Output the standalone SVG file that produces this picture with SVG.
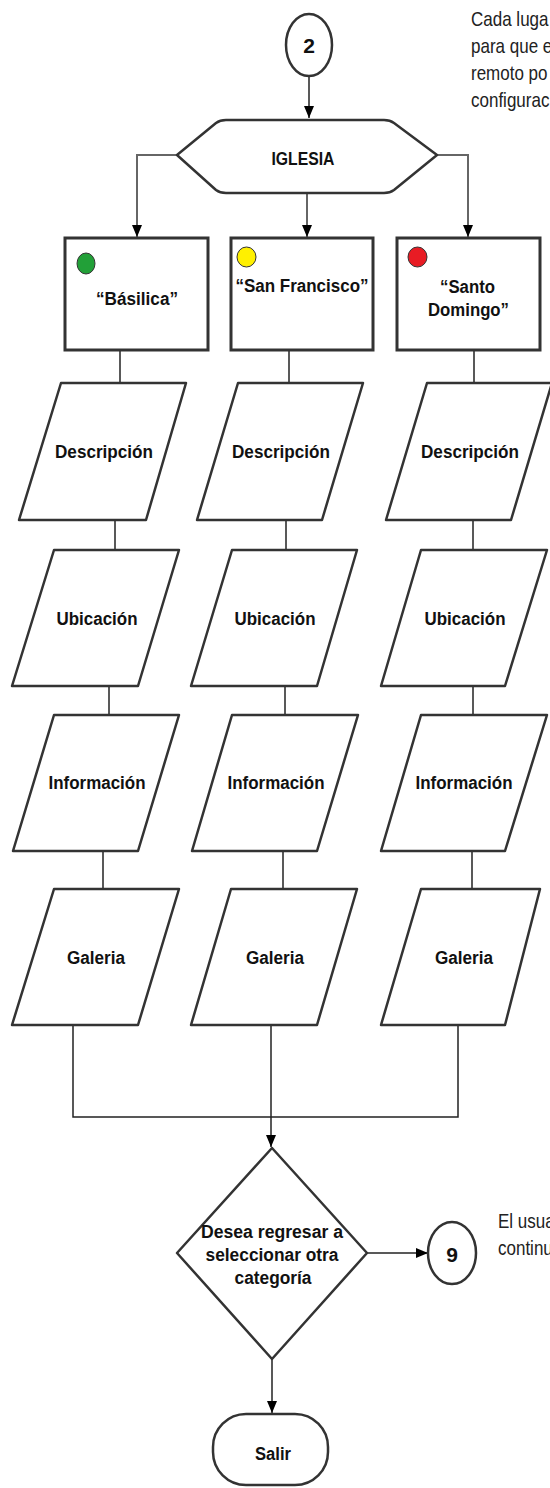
<svg xmlns="http://www.w3.org/2000/svg" width="550" height="1488" viewBox="0 0 550 1488">
<defs>
<style>
.shape{fill:#fff;stroke:#333;stroke-width:2.5;stroke-linejoin:round}
.box{fill:#fff;stroke:#333;stroke-width:3}
.lbl{font-family:"Liberation Sans",Arial,sans-serif;font-weight:bold;font-size:18px;fill:#111;text-anchor:middle}
.note{font-family:"Liberation Sans",Arial,sans-serif;font-size:21px;fill:#222}
.con{fill:none;stroke:#222;stroke-width:1.5}
.gcon{fill:none;stroke:#666;stroke-width:2}
.dot{stroke:#333;stroke-width:1}
</style>
<marker id="arr" markerUnits="userSpaceOnUse" markerWidth="12" markerHeight="10" refX="12" refY="5" orient="auto">
<path d="M0,0 L12,5 L0,10 Z" fill="#000"/>
</marker>
</defs>
<rect width="550" height="1488" fill="#fff"/>

<g id="connectors">
<path class="con" d="M309,76 L309,118" marker-end="url(#arr)"/>
<path class="gcon" d="M177,155 L137,155 L137,237" marker-end="url(#arr)"/>
<path class="gcon" d="M307,193 L307,237" marker-end="url(#arr)"/>
<path class="gcon" d="M437,155 L468,155 L468,237" marker-end="url(#arr)"/>
<path class="con" d="M120,350 L120,383"/>
<path class="con" d="M289,350 L289,383"/>
<path class="con" d="M474,350 L474,383"/>
<path class="con" d="M115,520 L115,550"/>
<path class="con" d="M286,520 L286,550"/>
<path class="con" d="M473,520 L473,550"/>
<path class="con" d="M109,686 L109,715"/>
<path class="con" d="M285,686 L285,715"/>
<path class="con" d="M473,686 L473,715"/>
<path class="con" d="M103,851 L103,889"/>
<path class="con" d="M283,851 L283,889"/>
<path class="con" d="M472,851 L472,889"/>
<path class="con" d="M73,1025 L73,1117 L458,1117 L458,1025"/>
<path class="con" d="M271,1025 L271,1147" marker-end="url(#arr)"/>
<path class="con" d="M367,1253 L428,1253" marker-end="url(#arr)"/>
<path class="con" d="M272,1359 L272,1413" marker-end="url(#arr)"/>
</g>

<g id="start-2">
<ellipse class="shape" cx="309" cy="45" rx="23" ry="31"/>
<text class="lbl" x="309" y="53" style="font-size:21px">2</text>
</g>

<g id="iglesia">
<path class="shape" d="M177,155 L216,123 Q220,120 226,120 L384,120 Q390,120 394,123 L437,155 L394,190 Q390,193 384,193 L226,193 Q220,193 216,190 Z"/>
<text class="lbl" x="303" y="165" textLength="63" lengthAdjust="spacingAndGlyphs">IGLESIA</text>
</g>

<g id="basilica">
<rect class="box" x="65" y="238" width="143" height="112"/>
<ellipse class="dot" cx="86" cy="263.5" rx="9" ry="10.5" fill="#22a038"/>
<text class="lbl" x="137" y="305" textLength="82" lengthAdjust="spacingAndGlyphs">“Básilica”</text>
</g>
<g id="san-francisco">
<rect class="box" x="231" y="238" width="142" height="112"/>
<ellipse class="dot" cx="246.5" cy="257" rx="9.5" ry="10" fill="#fff000"/>
<text class="lbl" x="302" y="292" textLength="133" lengthAdjust="spacingAndGlyphs">“San Francisco”</text>
</g>
<g id="santo-domingo">
<rect class="box" x="397" y="238" width="143" height="112"/>
<ellipse class="dot" cx="417.5" cy="257" rx="9.5" ry="10" fill="#e81c24"/>
<text class="lbl" x="467.5" y="293" textLength="55" lengthAdjust="spacingAndGlyphs">“Santo</text>
<text class="lbl" x="468.5" y="316" textLength="81" lengthAdjust="spacingAndGlyphs">Domingo”</text>
</g>

<g id="desc-1"><path class="shape" d="M61,383 L186,383 L146,520 L19,520 Z"/><text class="lbl" x="104" y="458" textLength="98" lengthAdjust="spacingAndGlyphs">Descripción</text></g>
<g id="desc-2"><path class="shape" d="M238,383 L363,383 L322,520 L197,520 Z"/><text class="lbl" x="281" y="458" textLength="98" lengthAdjust="spacingAndGlyphs">Descripción</text></g>
<g id="desc-3"><path class="shape" d="M427,383 L552,383 L511,520 L386,520 Z"/><text class="lbl" x="470" y="458" textLength="98" lengthAdjust="spacingAndGlyphs">Descripción</text></g>

<g id="ubic-1"><path class="shape" d="M54,550 L179,550 L138,686 L12,686 Z"/><text class="lbl" x="97" y="625" textLength="81" lengthAdjust="spacingAndGlyphs">Ubicación</text></g>
<g id="ubic-2"><path class="shape" d="M232,550 L357,550 L317,686 L191,686 Z"/><text class="lbl" x="275" y="625" textLength="81" lengthAdjust="spacingAndGlyphs">Ubicación</text></g>
<g id="ubic-3"><path class="shape" d="M421,550 L547,550 L505,686 L381,686 Z"/><text class="lbl" x="465" y="625" textLength="81" lengthAdjust="spacingAndGlyphs">Ubicación</text></g>

<g id="info-1"><path class="shape" d="M54,715 L179,715 L138,851 L13,851 Z"/><text class="lbl" x="97" y="789" textLength="97" lengthAdjust="spacingAndGlyphs">Información</text></g>
<g id="info-2"><path class="shape" d="M232,715 L358,715 L317,851 L192,851 Z"/><text class="lbl" x="276" y="789" textLength="97" lengthAdjust="spacingAndGlyphs">Información</text></g>
<g id="info-3"><path class="shape" d="M421,715 L547,715 L505,851 L381,851 Z"/><text class="lbl" x="464" y="789" textLength="97" lengthAdjust="spacingAndGlyphs">Información</text></g>

<g id="gal-1"><path class="shape" d="M54,889 L179,889 L138,1025 L12,1025 Z"/><text class="lbl" x="96" y="964" textLength="58" lengthAdjust="spacingAndGlyphs">Galeria</text></g>
<g id="gal-2"><path class="shape" d="M231,889 L357,889 L317,1025 L191,1025 Z"/><text class="lbl" x="275" y="964" textLength="58" lengthAdjust="spacingAndGlyphs">Galeria</text></g>
<g id="gal-3"><path class="shape" d="M421,889 L540,889 L505,1025 L381,1025 Z"/><text class="lbl" x="464" y="964" textLength="58" lengthAdjust="spacingAndGlyphs">Galeria</text></g>

<g id="decision">
<path class="shape" d="M272,1148 L367,1253 L272,1359 L177,1253 Z"/>
<text class="lbl" x="272" y="1238" textLength="142" lengthAdjust="spacingAndGlyphs">Desea regresar a</text>
<text class="lbl" x="272" y="1261" textLength="133" lengthAdjust="spacingAndGlyphs">seleccionar otra</text>
<text class="lbl" x="273" y="1284" textLength="77" lengthAdjust="spacingAndGlyphs">categoría</text>
</g>

<g id="conn-9">
<ellipse class="shape" cx="452" cy="1253" rx="24" ry="31"/>
<text class="lbl" x="452" y="1262" style="font-size:21px">9</text>
</g>

<g id="salir">
<rect class="shape" x="213" y="1414" width="115" height="71" rx="33" ry="33"/>
<text class="lbl" x="273" y="1460" textLength="36" lengthAdjust="spacingAndGlyphs">Salir</text>
</g>

<g id="note-top" transform="translate(471,0) scale(0.81,1)">
<text class="note" x="0" y="26">Cada luga</text>
<text class="note" x="0" y="53">para que e</text>
<text class="note" x="0" y="80">remoto po</text>
<text class="note" x="0" y="107">configurac</text>
</g>
<g id="note-bottom" transform="translate(498,0) scale(0.81,1)">
<text class="note" x="0" y="1228">El usua</text>
<text class="note" x="0" y="1255">continu</text>
</g>
</svg>
